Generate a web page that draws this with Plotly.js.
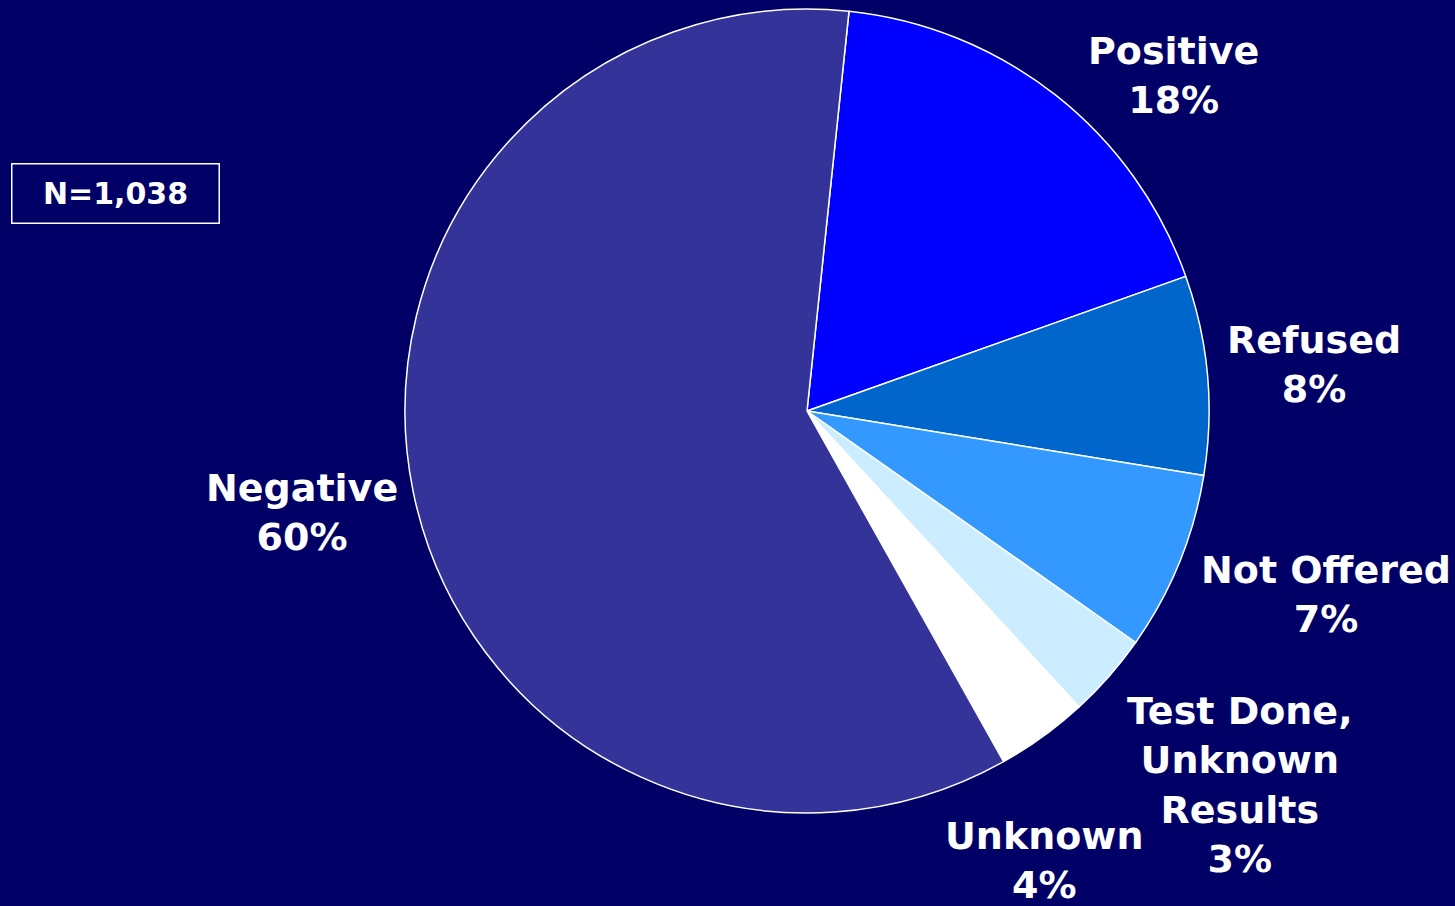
<!DOCTYPE html>
<html>
<head>
<meta charset="utf-8">
<script src="https://cdn.plot.ly/plotly-3.0.1.min.js"></script>
<style>
  html, body { margin: 0; padding: 0; background: #000066; }
  #chart { width: 1455px; height: 906px; }
</style>
</head>
<body>
<div id="chart"></div>
<script>
// ---- Data ----
const categories = ["Positive", "Refused", "Not Offered", "Test Done,<br>Unknown<br>Results", "Unknown", "Negative"];
const shares = [17.9, 8.0, 7.2, 3.4, 3.7, 59.8];
const sliceColors = ["#0000FF", "#0066CC", "#3399FF", "#CCECFF", "#FFFFFF", "#333399"];
const sampleLabel = "N=1,038";

// ---- Label placement (pixels in the 1455x906 frame) ----
const W = 1455, H = 906;
const labelPos = [
  [1173, 76],
  [1314, 364],
  [1326, 594],
  [1240, 785],
  [1044, 860],
  [302, 512]
];

const total = shares.reduce((a, b) => a + b, 0);
const annotations = categories.map((c, i) => ({
  text: c + "<br>" + Math.round(shares[i] / total * 100) + "%",
  x: labelPos[i][0] / W,
  y: 1 - labelPos[i][1] / H,
  xref: "paper", yref: "paper",
  xanchor: "center", yanchor: "middle",
  showarrow: false,
  align: "center",
  font: { family: "DejaVu Sans, Verdana, sans-serif", size: 38, color: "#FFFFFF", weight: "bold" }
}));

annotations.push({
  text: "<b>" + sampleLabel + "</b>",
  x: 116 / W, y: 1 - 194 / H,
  xref: "paper", yref: "paper",
  xanchor: "center", yanchor: "middle",
  showarrow: false,
  width: 204, height: 56,
  bordercolor: "#FFFFFF", borderwidth: 1.5, borderpad: 1,
  font: { family: "DejaVu Sans, Verdana, sans-serif", size: 30, color: "#FFFFFF" }
});

const cx = 807, cy = 411, r = 402;
const trace = {
  type: "pie",
  labels: categories,
  values: shares,
  sort: false,
  direction: "clockwise",
  rotation: 6,
  textinfo: "none",
  hoverinfo: "label+percent",
  marker: { colors: sliceColors, line: { color: "#FFFFFF", width: 1.5 } },
  domain: { x: [(cx - r) / W, (cx + r) / W], y: [1 - (cy + r) / H, 1 - (cy - r) / H] },
  showlegend: false
};

const layout = {
  width: W, height: H,
  margin: { l: 0, r: 0, t: 0, b: 0 },
  paper_bgcolor: "#000066",
  plot_bgcolor: "#000066",
  showlegend: false,
  annotations: annotations
};

Plotly.newPlot("chart", [trace], layout, { displayModeBar: false, staticPlot: true });
</script>
</body>
</html>
